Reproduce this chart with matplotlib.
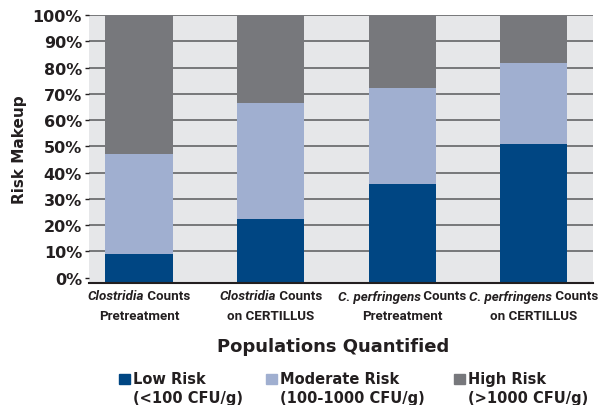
import matplotlib.pyplot as plt
from matplotlib.patches import Rectangle
import matplotlib.transforms as mtransforms
import numpy as np

output = "out.png"

# data (percent of samples in each risk class)
group_italic = ["Clostridia", "Clostridia", "C. perfringens", "C. perfringens"]
group_line1 = [" Counts", " Counts", " Counts", " Counts"]
group_line2 = ["Pretreatment", "on CERTILLUS", "Pretreatment", "on CERTILLUS"]
low_risk = [9.0, 22.3, 35.7, 50.9]
moderate_risk = [38.1, 44.2, 36.5, 30.8]
high_risk = [52.9, 33.5, 27.8, 18.3]

series_names = ["Low Risk\n(<100 CFU/g)", "Moderate Risk\n(100-1000 CFU/g)", "High Risk\n(>1000 CFU/g)"]
colors = ["#004683", "#a0afd0", "#77787c"]
txt = '#231f20'

plt.rcParams['font.family'] = ['Roboto', 'DejaVu Sans']

fig = plt.figure(figsize=(6.15, 4.06), dpi=100)
ax = fig.add_axes([0.1447, 0.3005, 0.8195, 0.6601])
ax.set_facecolor("#e6e7e9")

base = -2.0
x = np.arange(len(group_line2))
w = 0.51
bottom = np.full(len(x), base)
for vals, col in zip([low_risk, moderate_risk, high_risk], colors):
    h = np.array(vals)
    if col == colors[0]:
        h = h - base
    ax.bar(x, h, w, bottom=bottom, color=col, zorder=2)
    bottom = bottom + h

ax.set_xlim(-0.38, 3.45)
ax.set_ylim(base, 100)
ax.set_yticks(np.arange(0, 101, 10))
ax.set_yticklabels(["%d%%" % v for v in range(0, 101, 10)], fontsize=11.5,
                   fontweight='bold', family='DejaVu Sans', color=txt)
for v in range(10, 101, 10):
    ax.axhline(v, color='#58595b', lw=1.1, zorder=1)
ax.tick_params(axis='y', length=3, width=1, color=txt, pad=2)
ax.set_xticks(x)
ax.set_xticklabels([])
ax.tick_params(axis='x', length=0)

for s in ['top', 'right', 'left']:
    ax.spines[s].set_visible(False)
ax.spines['bottom'].set_color(txt)
ax.spines['bottom'].set_linewidth(1.5)

# category labels: italic name + regular word, centred under each bar
r = fig.canvas.get_renderer()
trans = mtransforms.blended_transform_factory(ax.transData, fig.transFigure)
fs = 9.6
for xi, it, l1, l2 in zip(x, group_italic, group_line1, group_line2):
    t1 = fig.text(0, 0, it, fontsize=fs, fontweight='bold', style='italic')
    t2 = fig.text(0, 0, l1, fontsize=fs, fontweight='bold')
    w1 = t1.get_window_extent(r).width
    w2 = t2.get_window_extent(r).width
    t1.remove(); t2.remove()
    tot = w1 + w2
    y1 = 1 - 297 / 406.0
    off1 = mtransforms.offset_copy(trans, fig=fig, x=-tot / 2 * 72 / fig.dpi, units='points')
    off2 = mtransforms.offset_copy(trans, fig=fig, x=(-tot / 2 + w1) * 72 / fig.dpi, units='points')
    ax.text(xi, y1, it, transform=off1, ha='left', va='center', fontsize=fs,
            fontweight='bold', style='italic', color=txt)
    ax.text(xi, y1, l1, transform=off2, ha='left', va='center', fontsize=fs,
            fontweight='bold', color=txt)
    ax.text(xi, 1 - 316 / 406.0, l2, transform=trans, ha='center', va='center',
            fontsize=fs, fontweight='bold', color=txt)

ax.set_ylabel("Risk Makeup", fontsize=11, fontweight='bold', family='DejaVu Sans',
              color=txt, labelpad=4)
fig.text(0.5415, 0.145, "Populations Quantified", ha='center', va='center',
         fontsize=13, fontweight='bold', family='DejaVu Sans', color=txt)

# legend
leg_x = [119, 266, 454]
for lx, name, col in zip(leg_x, series_names, colors):
    fig.patches.append(Rectangle((lx / 615.0, 1 - 385 / 406.0), 11 / 615.0, 10 / 406.0,
                                 transform=fig.transFigure, color=col))
    fig.text((lx + 14) / 615.0, 1 - 372 / 406.0, name, ha='left', va='top',
             fontsize=10.5, fontweight='bold', family='DejaVu Sans', color=txt,
             linespacing=1.3)

plt.savefig(output)
